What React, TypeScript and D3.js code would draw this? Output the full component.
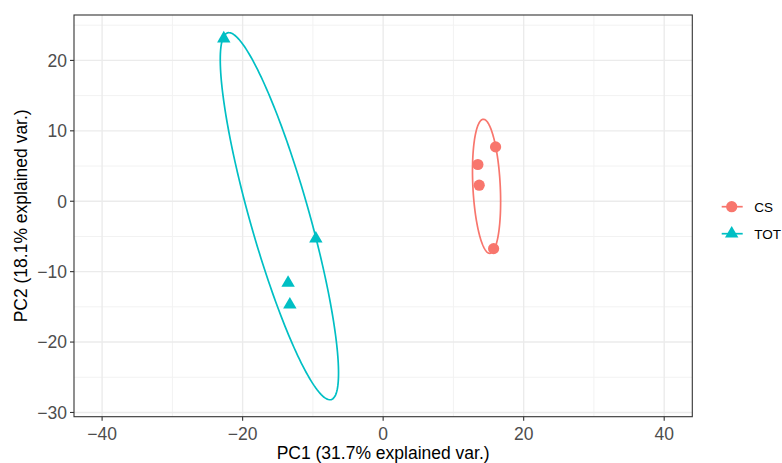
import React from "react";
import * as d3 from "d3";

const groups = ["CS", "TOT"];
const groupColors = ["#F8766D", "#00BFC4"];
const csPC1 = [16.0, 13.48, 13.67, 15.72];
const csPC2 = [7.72, 5.22, 2.28, -6.73];
const totPC1 = [-22.68, -9.58, -13.53, -13.28];
const totPC2 = [23.1, -5.32, -11.6, -14.7];
const xTicks = [-40, -20, 0, 20, 40];
const yTicks = [-30, -20, -10, 0, 10, 20];
const xMinor = [-30, -10, 10, 30];
const yMinor = [-25, -15, -5, 5, 15, 25];
const xTitle = "PC1 (31.7% explained var.)";
const yTitle = "PC2 (18.1% explained var.)";
const ellipseProb = 0.68;

const W = 782, H = 463;
const panel = { left: 74, right: 692.3, top: 15, bottom: 416.7 };
const font = "'Liberation Sans', Arial, Helvetica, sans-serif";

function ellipsePath(xs: number[], ys: number[], sx: any, sy: any) {
  const n = xs.length;
  const mx = d3.mean(xs)!, my = d3.mean(ys)!;
  let sxx = 0, syy = 0, sxy = 0;
  for (let i = 0; i < n; i++) {
    sxx += (xs[i] - mx) ** 2;
    syy += (ys[i] - my) ** 2;
    sxy += (xs[i] - mx) * (ys[i] - my);
  }
  sxx /= n - 1; syy /= n - 1; sxy /= n - 1;
  const a = Math.sqrt(sxx);
  const b = sxy / a;
  const c = Math.sqrt(syy - b * b);
  const ed = Math.sqrt(-2 * Math.log(1 - ellipseProb));
  const pts: [number, number][] = d3.range(0, 201).map((i) => {
    const t = -Math.PI + (2 * Math.PI * i) / 200;
    const ct = Math.cos(t), st = Math.sin(t);
    return [sx(ct * a * ed + mx), sy((ct * b + st * c) * ed + my)];
  });
  return d3.line()(pts)!;
}

export default function App() {
  const sx = d3.scaleLinear().domain([-44, 44]).range([panel.left, panel.right]);
  const sy = d3.scaleLinear().domain([-30.6, 26.45]).range([panel.bottom, panel.top]);
  const data = [
    { xs: csPC1, ys: csPC2 },
    { xs: totPC1, ys: totPC2 },
  ];
  const circleSym = d3.symbol().type(d3.symbolCircle).size(Math.PI * 5.6 * 5.6);
  const triSym = d3.symbol().type(d3.symbolTriangle).size(78);
  const syms = [circleSym() as string, triSym() as string];

  return (
    <svg width={W} height={H} style={{ position: "absolute", left: 0, top: 0, background: "#fff" }}>
      <rect x={0} y={0} width={W} height={H} fill="#fff" />
      {/* grid */}
      {xMinor.map((v) => (
        <line key={"xm" + v} x1={sx(v)} x2={sx(v)} y1={panel.top} y2={panel.bottom} stroke="#F2F2F2" strokeWidth={1} />
      ))}
      {yMinor.map((v) => (
        <line key={"ym" + v} y1={sy(v)} y2={sy(v)} x1={panel.left} x2={panel.right} stroke="#F2F2F2" strokeWidth={1} />
      ))}
      {xTicks.map((v) => (
        <line key={"xg" + v} x1={sx(v)} x2={sx(v)} y1={panel.top} y2={panel.bottom} stroke="#EBEBEB" strokeWidth={1.4} />
      ))}
      {yTicks.map((v) => (
        <line key={"yg" + v} y1={sy(v)} y2={sy(v)} x1={panel.left} x2={panel.right} stroke="#EBEBEB" strokeWidth={1.4} />
      ))}
      {/* points */}
      {data.map((g, gi) =>
        g.xs.map((x, i) => (
          <path key={gi + "-" + i} d={syms[gi]} transform={`translate(${sx(x)},${sy(g.ys[i])})`} fill={groupColors[gi]} />
        ))
      )}
      {/* ellipses */}
      {data.map((g, gi) => (
        <path key={"e" + gi} d={ellipsePath(g.xs, g.ys, sx, sy)} fill="none" stroke={groupColors[gi]} strokeWidth={1.7} />
      ))}
      {/* panel border */}
      <rect x={panel.left} y={panel.top} width={panel.right - panel.left} height={panel.bottom - panel.top} fill="none" stroke="#333333" strokeWidth={1.1} />
      {/* x axis */}
      {xTicks.map((v) => (
        <g key={"xt" + v}>
          <line x1={sx(v)} x2={sx(v)} y1={panel.bottom} y2={panel.bottom + 4} stroke="#333333" strokeWidth={1.1} />
          <text x={sx(v)} y={panel.bottom + 23} textAnchor="middle" fontFamily={font} fontSize={17.5} fill="#4D4D4D">
            {v < 0 ? "\u2212" + Math.abs(v) : String(v)}
          </text>
        </g>
      ))}
      {yTicks.map((v) => (
        <g key={"yt" + v}>
          <line x1={panel.left - 4} x2={panel.left} y1={sy(v)} y2={sy(v)} stroke="#333333" strokeWidth={1.1} />
          <text x={panel.left - 7} y={sy(v)} dy="0.36em" textAnchor="end" fontFamily={font} fontSize={17.5} fill="#4D4D4D">
            {v < 0 ? "\u2212" + Math.abs(v) : String(v)}
          </text>
        </g>
      ))}
      <text x={(panel.left + panel.right) / 2} y={459} textAnchor="middle" fontFamily={font} fontSize={17.5} fill="#000">
        {xTitle}
      </text>
      <text transform={`translate(27,${(panel.top + panel.bottom) / 2}) rotate(-90)`} textAnchor="middle" fontFamily={font} fontSize={17.5} fill="#000">
        {yTitle}
      </text>
      {/* legend */}
      {groups.map((g, gi) => {
        const cy = 206.7 + gi * 27;
        return (
          <g key={"lg" + g}>
            <line x1={721.7} x2={742.7} y1={cy} y2={cy} stroke={groupColors[gi]} strokeWidth={1.7} />
            <path d={syms[gi]} transform={`translate(731.7,${cy})`} fill={groupColors[gi]} />
            <text x={754.3} y={cy} dy="0.36em" fontFamily={font} fontSize={13.5} fill="#000">
              {g}
            </text>
          </g>
        );
      })}
    </svg>
  );
}
